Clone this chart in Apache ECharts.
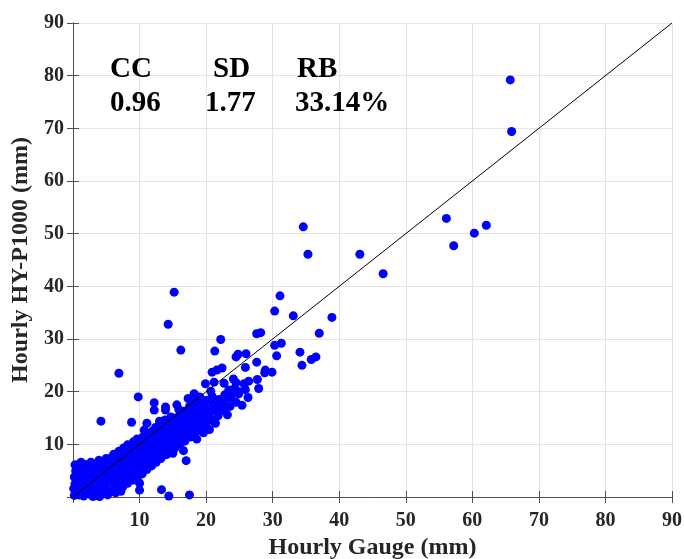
<!DOCTYPE html>
<html><head><meta charset="utf-8">
<script src="https://cdn.jsdelivr.net/npm/echarts@6/dist/echarts.min.js"></script>
<style>html,body{margin:0;padding:0;background:#fff}#c{width:684px;height:559px}</style>
</head><body><div id="c"></div>
<script>
// axis ticks
const tickValues = [0,10,20,30,40,50,60,70,80,90];
const xName = 'Hourly Gauge (mm)';
const yName = 'Hourly HY-P1000 (mm)';
const statNames = ['CC','SD','RB'];
const statValues = ['0.96','1.77','33.14%'];
const oneToOne = [[0,0],[90,90]];

// dense cluster near origin
const clusterA = [
[0.2,0.3],[0.5,1.2],[0.3,2.5],[0.2,3.8],[0.4,5.0],[0.6,5.9],[0.9,0.4],[1.1,1.8],[1.0,3.1],[1.2,4.4],
[1.4,5.5],[1.6,0.2],[1.8,1.0],[1.9,2.4],[2.0,3.6],[2.2,4.8],[2.4,5.8],[2.6,0.5],[2.8,1.6],[2.9,2.9],
[3.1,4.1],[3.3,5.3],[3.5,6.3],[3.6,0.3],[3.8,1.3],[3.9,2.2],[4.1,3.4],[4.3,4.6],[4.5,5.7],[4.7,6.8],
[4.6,0.6],[4.9,1.8],[5.1,2.9],[5.3,4.0],[5.5,5.2],[5.7,6.4],[5.9,7.6],[5.6,1.0],[0.1,1.6],[0.8,2.2],
[1.5,3.0],[2.5,2.0],[3.4,3.5],[0.6,4.3],[1.7,6.2],[2.7,6.6],[0.3,6.1],[4.0,0.1],[5.2,0.4],[3.0,0.1],
[1.2,6.6],[3.9,7.0],[5.0,7.3],[6.4,0.8],[7.2,1.1]
];
const clusterB = [
[6.0,1.2],[6.1,2.5],[5.9,3.9],[6.2,5.3],[6.0,6.7],[6.1,8.1],
[6.8,1.6],[6.7,3.0],[6.9,4.4],[6.8,5.8],[6.7,7.2],[6.9,8.7],
[7.5,2.0],[7.4,3.4],[7.6,4.8],[7.5,6.2],[7.4,7.7],[7.6,9.3],
[8.2,2.6],[8.3,4.0],[8.1,5.5],[8.2,6.9],[8.3,8.4],[8.2,9.9],
[9.0,3.2],[8.9,4.6],[9.1,6.1],[9.0,7.6],[8.9,9.0],[9.1,10.5],
[9.7,3.7],[9.8,5.2],[9.6,6.7],[9.7,8.2],[9.8,9.7],[9.6,11.0],
[10.4,4.4],[10.3,5.9],[10.5,7.4],[10.4,8.9],[10.3,10.3],[10.5,11.4],
[11.1,5.2],[11.2,6.6],[11.0,8.1],[11.1,9.5],[11.2,10.9],[11.0,12.0],
[11.8,5.9],[11.7,7.3],[11.9,8.8],[11.8,10.2],[11.7,11.6],[11.9,12.5],
[12.5,6.6],[12.6,8.0],[12.4,9.4],[12.5,10.8],[12.6,12.2],[12.4,13.2],
[13.2,7.3],[13.1,8.7],[13.3,10.1],[13.2,11.5],[13.1,12.9],[13.3,14.0],
[13.9,8.0],[14.0,9.4],[13.8,10.8],[13.9,12.2],[14.0,13.6],[13.8,14.6],
[14.6,8.7],[14.5,10.1],[14.7,11.5],[14.6,12.9],[14.5,14.2],[14.7,15.2],
[15.3,9.3],[15.4,10.8],[15.2,12.2],[15.3,13.6],[15.4,15.0],
[16.0,9.9],[16.1,11.4],[15.9,12.8],[16.0,14.2],[16.1,15.6],[15.9,16.6],
[16.8,10.6],[16.7,12.1],[16.9,13.5],[16.8,14.9],[16.7,16.3],
[17.6,11.4],[17.5,12.9],[17.7,14.3],[17.6,15.7],[17.5,17.2],
[18.4,12.2],[18.3,13.7],[18.5,15.1],[18.4,16.6],[18.3,18.0],
[19.2,13.0],[19.1,14.5],[19.3,16.0],[19.2,17.4],[19.1,18.9],
[20.0,13.8],[20.1,15.3],[19.9,16.8],[20.0,18.3],
[20.9,14.6],[20.8,16.2],[21.0,17.6],[20.9,19.1],
[21.8,15.4],[21.7,17.0],[21.9,18.5],
[22.7,16.4],[22.6,17.9],[22.8,19.4],
[23.6,17.2],[23.5,18.8],[24.5,18.0]
];
// scattered points and outliers
const clusterC = [
[65.7,79.2],[65.9,69.4],[56.1,52.9],[62.1,51.6],[60.3,50.1],[57.2,47.7],
[34.6,51.3],[35.3,46.1],[43.1,46.1],[46.6,42.4],[31.1,38.2],[30.3,35.3],
[33.1,34.4],[38.9,34.1],[27.6,31.0],[28.2,31.2],[37.0,31.1],[30.3,28.8],
[31.3,29.2],[30.6,26.8],[34.1,27.5],[34.4,25.0],[35.8,26.1],[36.5,26.6],
[27.6,25.6],[28.8,23.6],[28.9,24.1],[29.9,23.7],[22.2,29.9],[21.3,27.7],
[16.2,27.9],[15.2,38.9],[14.3,32.8],[6.9,23.5],[4.2,14.4],[8.8,14.2],
[11.1,14.0],[10.7,12.7],[13.0,14.4],[13.4,13.7],[12.2,17.9],[12.2,16.5],
[13.9,17.1],[13.9,16.5],[15.6,17.5],[9.8,19.0],[19.0,19.0],[17.0,6.9],
[10.0,2.6],[10.0,1.3],[13.3,1.4],[14.4,0.2],[17.5,0.4],[15.0,8.3],[14.1,8.1],
[16.4,16.3],[24.5,26.6],[24.8,27.1],[26.0,27.2],[25.9,24.6],[20.9,23.7],
[21.6,24.1],[22.4,24.5],[19.9,21.5],[21.2,21.8],[22.7,21.6],[24.1,22.4],
[24.5,21.7],[25.7,21.5],[26.4,22.0],[27.7,22.3],[23.4,20.3],[24.3,20.6],
[25.0,20.0],[25.9,20.4],[27.9,20.6],[23.8,19.2],[24.9,19.6],[20.7,20.1],
[22.3,18.4],[26.3,18.9],[18.2,19.6],[17.3,18.7],[22.0,16.2],[23.2,15.6],
[20.5,12.8],[18.6,11.0],[19.6,12.2],[21.4,14.0],[25.4,17.4],[16.6,8.8]
];

const serif = "'Liberation Serif','Times New Roman',serif";
const chart = echarts.init(document.getElementById('c'), null, {renderer:'canvas'});
const axisCommon = {
  type:'value', min:0, max:90, interval:10,
  axisLine:{show:true, lineStyle:{color:'#505050', width:1}},
  axisTick:{show:true, inside:true, length:6, lineStyle:{color:'#505050'}},
};
const graphics = [];
const statX = [110, 213, 297];
const valX = [110, 205, 295];
statNames.forEach((s,i)=>{
  graphics.push({type:'text', z:10, style:{text:s, x:statX[i], y:70, font:'bold 29px '+serif, fill:'#000', textAlign:'left', verticalAlign:'middle', textVerticalAlign:'middle'}});
  graphics.push({type:'text', z:10, style:{text:statValues[i], x:valX[i], y:104, font:'bold 29px '+serif, fill:'#000', textAlign:'left', verticalAlign:'middle', textVerticalAlign:'middle'}});
});
chart.setOption({
  animation:false,
  backgroundColor:'#fff',
  grid:{left:73, right:12, top:23, bottom:62, containLabel:false, outerBoundsMode:'none'},
  xAxis:[
    Object.assign({}, axisCommon, {position:'bottom',
      name:xName, nameLocation:'middle', nameGap:39,
      nameTextStyle:{fontFamily:serif, fontWeight:'bold', fontSize:24, color:'#262626'},
      axisLabel:{show:true, margin:14, fontFamily:serif, fontWeight:'bold', fontSize:20, color:'#262626',
        formatter:v=> (v===tickValues[0] ? '' : String(v))},
      splitLine:{show:true, lineStyle:{color:'#e3e3e3', width:1}}}),
    Object.assign({}, axisCommon, {position:'top', axisLabel:{show:false}, splitLine:{show:false}})
  ],
  yAxis:[
    Object.assign({}, axisCommon, {position:'left',
      name:yName, nameLocation:'middle', nameGap:32,
      nameTextStyle:{fontFamily:serif, fontWeight:'bold', fontSize:24, color:'#262626'},
      axisLabel:{show:true, margin:9, fontFamily:serif, fontWeight:'bold', fontSize:20, color:'#262626',
        formatter:v=> (v===tickValues[0] ? '' : String(v))},
      splitLine:{show:true, lineStyle:{color:'#e3e3e3', width:1}}}),
    Object.assign({}, axisCommon, {position:'right', axisLabel:{show:false}, splitLine:{show:false}})
  ],
  series:[
    {type:'scatter', data:clusterA.concat(clusterB, clusterC), symbolSize:9, itemStyle:{color:'#0000ff', opacity:1}, z:2, silent:true},
    {type:'line', data:oneToOne, symbol:'none', lineStyle:{color:'#000', width:1}, z:5, silent:true}
  ],
  graphic:graphics
});
</script></body></html>
